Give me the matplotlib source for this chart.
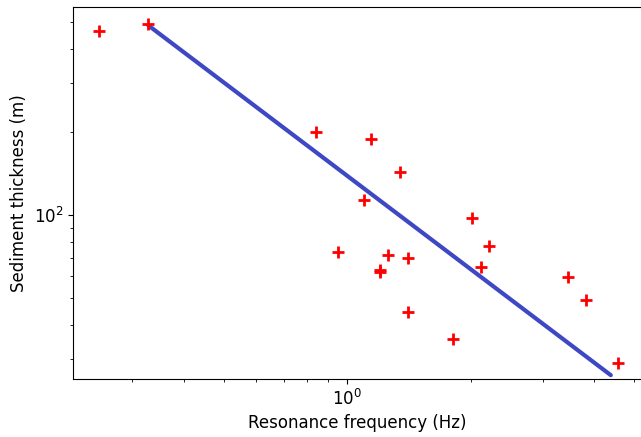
import numpy as np
import matplotlib.pyplot as plt

# measured points (Hz, m)
freq = [0.248, 0.328, 0.841, 1.144, 1.346, 1.10, 2.01, 0.951, 1.258, 1.41,
        1.200, 1.206, 2.216, 2.118, 1.41, 1.81, 3.45, 3.815, 4.56]
thick = [464, 492, 200, 188, 143, 113, 97.5, 73.5, 71.6, 69.8,
         63.0, 62.4, 77.3, 64.8, 44.5, 35.5, 59.6, 49.2, 29.1]

# fitted power law line end points
fit_freq = [0.328, 4.39]
fit_thick = [487, 26.3]

fig = plt.figure(figsize=(6.41, 4.37), dpi=100)
ax = fig.add_axes([0.114, 0.133, 0.886, 0.851])
ax.loglog(fit_freq, fit_thick, color='#3f48c4', lw=3, solid_capstyle='round')
ax.loglog(freq, thick, '+', color='red', ms=9, mew=2)
ax.set_xlim(0.215, 5.2)
ax.set_ylim(25.5, 568)
ax.set_xlabel('Resonance frequency (Hz)', fontsize=12)
ax.set_ylabel('Sediment thickness (m)', fontsize=12)
ax.tick_params(labelsize=12)
ax.spines['right'].set_visible(False)
fig.savefig('out.png', dpi=100)
